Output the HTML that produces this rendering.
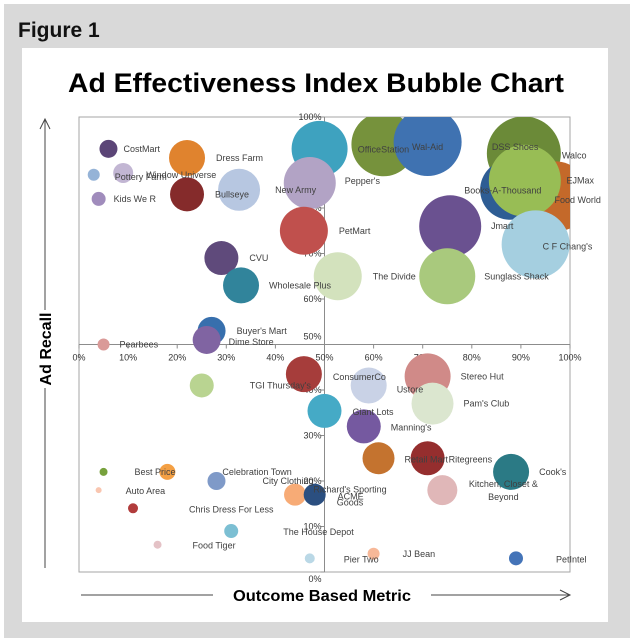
<!DOCTYPE html>
<html><head><meta charset="utf-8"><style>
html,body{margin:0;padding:0;background:#fff}
svg{display:block}
text{font-family:"Liberation Sans",sans-serif}
</style></head><body>
<svg id="chart" width="634" height="640" viewBox="0 0 634 640" xmlns="http://www.w3.org/2000/svg">
<rect x="0" y="0" width="634" height="640" fill="#fff"/>
<rect x="4" y="4" width="626" height="634" fill="#d9d9d9"/>
<text x="18" y="37" font-size="21" font-weight="bold" fill="#111">Figure 1</text>
<rect x="22" y="48" width="586" height="574" fill="#fff"/>
<text x="316" y="92" font-size="27" font-weight="bold" text-anchor="middle" textLength="496" lengthAdjust="spacingAndGlyphs" fill="#000">Ad Effectiveness Index Bubble Chart</text>
<defs><clipPath id="plotclip"><rect x="79" y="117" width="491" height="455"/></clipPath></defs>
<rect x="79" y="117" width="491" height="455" fill="none" stroke="#a6a6a6" stroke-width="1"/>
<g id="axes"></g>
<g id="bubbles" clip-path="url(#plotclip)"></g>
<g id="labels"></g>
<g>
<line x1="45" y1="120" x2="45" y2="310" stroke="#444"/>
<polyline points="40,129 45,119 50,129" fill="none" stroke="#444"/>
<line x1="45" y1="388" x2="45" y2="568" stroke="#444"/>
<text transform="translate(51,349) rotate(-90)" font-size="16" font-weight="bold" text-anchor="middle" fill="#000">Ad Recall</text>
</g>
<g>
<line x1="81" y1="595" x2="213" y2="595" stroke="#444"/>
<line x1="431" y1="595" x2="569" y2="595" stroke="#444"/>
<polyline points="560,590 570,595 560,600" fill="none" stroke="#444"/>
<text x="322" y="601" font-size="16" font-weight="bold" text-anchor="middle" textLength="178" lengthAdjust="spacingAndGlyphs" fill="#000">Outcome Based Metric</text>
</g>
</svg>
<script>
const names=["CostMart","Pottery Farm","Window Universe","Kids We R","Dress Farm","Bullseye","New Army","CVU","Wholesale Plus","Buyer's Mart","Dime Store","Pearbees","Top Teal","Pepper's","PetMart","The Divide","OfficeStation","Wal-Aid","Jmart","Sunglass Shack","Walco","DSS Shoes","EJMax","Food World","Books-A-Thousand","C F Chang's","TGI Thursday's","ConsumerCo","Ustore","Stereo Hut","Pam's Club","Giant Lots","Manning's","Retail Mart","Ritegreens","Cook's","Kitchen, Closet & Beyond","Best Price","Celebration Town","Auto Area","City Clothing","Chris Dress For Less","The House Depot","Food Tiger","Richard's Sporting Goods","ACME","Pier Two","JJ Bean","PetIntel"];
const xValues=[6,3,9,4,22,22,32.6,29,33,27,26,5,49,47,45.8,52.7,62,71,75.6,75,90.6,87.8,97,97.5,90.8,93,25,45.8,59,71,72,50,58,61,71,88,74,5,18,4,28,11,31,16,44,48,47,60,89];
const yValues=[93,87.3,87.7,82,91,83,84,69,63,53,51,50,93,85.5,75,65,94,94.5,76,65,92,84,83,82,86,72,41,43.5,41,43,37,35.4,32,25,25,22,18,22,22,18,20,14,9,6,17,17,3,4,3];
const sizes=[9,6,10,7,18,17,21,17,18,14,14,6,28,26,24,24,32,34,31,28,37,30,33,32,36,34,12,18,18,23,21,17,17,16,17,18,15,4,8,3,9,5,7,4,11,11,5,6,7];
const colors=["#5b4577","#95b3d7","#c2b6d3","#a08cbc","#e0832e","#852b2b","#b7c7e1","#5f4a7b","#31849b","#376fad","#8064a2","#da9a98","#3ea2bf","#b2a3c5","#c0504d","#d3e2bd","#76923c","#3f72b1","#6a5190","#a9c97d","#6b8a38","#2e5d94","#c4692a","#c4692a","#98bd55","#a5cfe0","#b9d491","#a63d3b","#c9d2e6","#d08a88","#dbe6cf","#45aac6","#7559a0","#c4732f","#952e2e","#2b7a85","#e0b7b8","#77a13c","#f4a044","#f9c6b0","#7f9ac8","#b13c3c","#7cbfd3","#e4c2c6","#f7ab76","#2b4f80","#bad8e6","#f7b898","#4474b8"];
// label offsets relative to bubble centre (style, not data)
const labelDx=[15,21,23,15,29,28,36,28,28,25,22,16,0,35,35,35,0,0,52,37,38,5,25,20,-22,7,48,29,28,33,31,28,27,26,21,28,61,31,55,27,46,56,52,35,55,36,34,29,40];
const labelDy=[0,2,2,0,0,0,0,0,0,0,2,0,0,-2,0,0,5,5,0,0,2,-43,-14,1,10,2,0,3,4,0,0,1,1,1,1,0,0,0,0,1,0,1,1,1,-5,2,1,0,1];
const labelAnchor=["start","start","start","start","start","start","start","start","start","start","start","start","none","start","start","start","middle","middle","middle","start","start","middle","middle","middle","middle","start","start","start","start","start","start","start","start","start","start","start","middle","start","start","start","start","start","start","start","middle","middle","start","start","start"];
const xTicks=["0%","10%","20%","30%","40%","50%","60%","70%","80%","90%","100%"];
const yTicks=["0%","10%","20%","30%","40%","50%","60%","70%","80%","90%","100%"];
const X0=79,X1=570,Y0=572,Y1=117;
function xScale(v){return X0+(X1-X0)*v/100;}
function yScale(v){return Y0-(Y0-Y1)*v/100;}
const NS="http://www.w3.org/2000/svg";
const axes=document.getElementById('axes');
function mk(tag,attrs,parent){const e=document.createElementNS(NS,tag);for(const k in attrs)e.setAttribute(k,attrs[k]);parent.appendChild(e);return e;}
const xa=mk('line',{x1:X0,x2:X1,y1:yScale(50),y2:yScale(50),stroke:'#8c8c8c'},axes);


const ya=mk('line',{x1:xScale(50),x2:xScale(50),y1:Y1,y2:Y0,stroke:'#8c8c8c'},axes);


xTicks.forEach((t,i)=>{
  const v=i*10,x=xScale(v);
  mk('line',{x1:x,x2:x,y1:yScale(50),y2:yScale(50)+4,stroke:'#8c8c8c'},axes);
  const tx=mk('text',{x:x,y:yScale(50)+16,'font-size':9,'text-anchor':'middle',fill:'#333'},axes);
  tx.textContent=t;
  
  
});
yTicks.forEach((t,i)=>{
  const v=i*10,y=yScale(v);
  mk('line',{x1:xScale(50)-4,x2:xScale(50),y1:y,y2:y,stroke:'#8c8c8c'},axes);
  const yy=(v===50)?y-5:(v===100?y+3:(v===0?y+10:y+3));
  const ty=mk('text',{x:xScale(50)-3,y:yy,'font-size':9,'text-anchor':'end',fill:'#333'},axes);
  ty.textContent=t;
  
  
});
const bg=document.getElementById('bubbles'),lg=document.getElementById('labels');
names.forEach((n,i)=>{
  const cx=xScale(xValues[i]),cy=yScale(yValues[i]);
  const c=mk('circle',{cx:cx,cy:cy,r:sizes[i],fill:colors[i]},bg);
  
  
  if(labelAnchor[i]==='none')return;
  const lx=cx+labelDx[i],ly=cy+labelDy[i]+3;
  const t=mk('text',{x:lx,y:ly,'font-size':9,'text-anchor':labelAnchor[i],fill:'#404040'},lg);
  
  
  if(n==="Kitchen, Closet & Beyond"){
    mk('tspan',{x:lx,dy:-6},t).textContent="Kitchen, Closet &";
    mk('tspan',{x:lx,dy:13},t).textContent="Beyond";
  } else if(n==="Richard's Sporting Goods"){
    mk('tspan',{x:lx,dy:0},t).textContent="Richard's Sporting";
    mk('tspan',{x:lx,dy:13},t).textContent="Goods";
  } else t.textContent=n;
});
</script>
</body></html>
